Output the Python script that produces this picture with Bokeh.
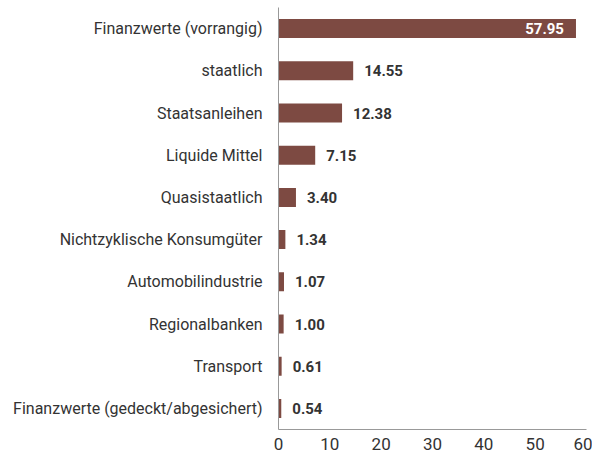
from bokeh.plotting import figure
from bokeh.models import FactorRange, ColumnDataSource, Range1d, FixedTicker
from bokeh.core.properties import value
from bokeh.embed import file_html
from bokeh.resources import INLINE

categories = ["Finanzwerte (vorrangig)", "staatlich", "Staatsanleihen", "Liquide Mittel",
              "Quasistaatlich", "Nichtzyklische Konsumgüter", "Automobilindustrie",
              "Regionalbanken", "Transport", "Finanzwerte (gedeckt/abgesichert)"]
values = [57.95, 14.55, 12.38, 7.15, 3.40, 1.34, 1.07, 1.00, 0.61, 0.54]
x_ticks = [0, 10, 20, 30, 40, 50, 60]

FONT = "Roboto"
BAR = "#7d4a42"

factors = list(reversed(categories))
p = figure(y_range=FactorRange(*factors, range_padding=0), x_range=Range1d(0, 60),
           frame_width=308, frame_height=422, width=592, height=451,
           min_border_left=278, min_border_right=6, min_border_top=7, min_border_bottom=22,
           output_backend="svg", toolbar_location=None)

src = ColumnDataSource(dict(cat=categories, val=values))
p.hbar(y="cat", right="val", left=0, height=0.45, source=src, color=BAR, line_color=None)

inside = ColumnDataSource(dict(cat=categories[:1], val=values[:1], lab=["%.2f" % v for v in values[:1]]))
outside = ColumnDataSource(dict(cat=categories[1:], val=values[1:], lab=["%.2f" % v for v in values[1:]]))
p.text(x="val", y="cat", text="lab", source=inside, x_offset=-12, text_align="right",
       text_baseline="middle", text_color="white", text_font=value(FONT),
       text_font_size="15px", text_font_style="bold")
p.text(x="val", y="cat", text="lab", source=outside, x_offset=11, text_align="left",
       text_baseline="middle", text_color="#333333", text_font=value(FONT),
       text_font_size="15px", text_font_style="bold")

p.outline_line_color = None
p.grid.grid_line_color = None

p.xaxis.ticker = FixedTicker(ticks=x_ticks)
p.xaxis.axis_line_color = "#999999"
p.xaxis.major_tick_line_color = None
p.xaxis.minor_tick_line_color = None
p.xaxis.major_label_text_font = FONT
p.xaxis.major_label_text_font_size = "17px"
p.xaxis.major_label_text_color = "#333333"
p.xaxis.major_label_standoff = 2

p.yaxis.axis_line_color = "#999999"
p.yaxis.major_tick_line_color = None
p.yaxis.minor_tick_line_color = None
p.yaxis.major_label_text_font = FONT
p.yaxis.major_label_text_font_size = "16px"
p.yaxis.major_label_text_color = "#333333"
p.yaxis.major_label_standoff = 10

open("out.html", "w").write(file_html(p, INLINE))
